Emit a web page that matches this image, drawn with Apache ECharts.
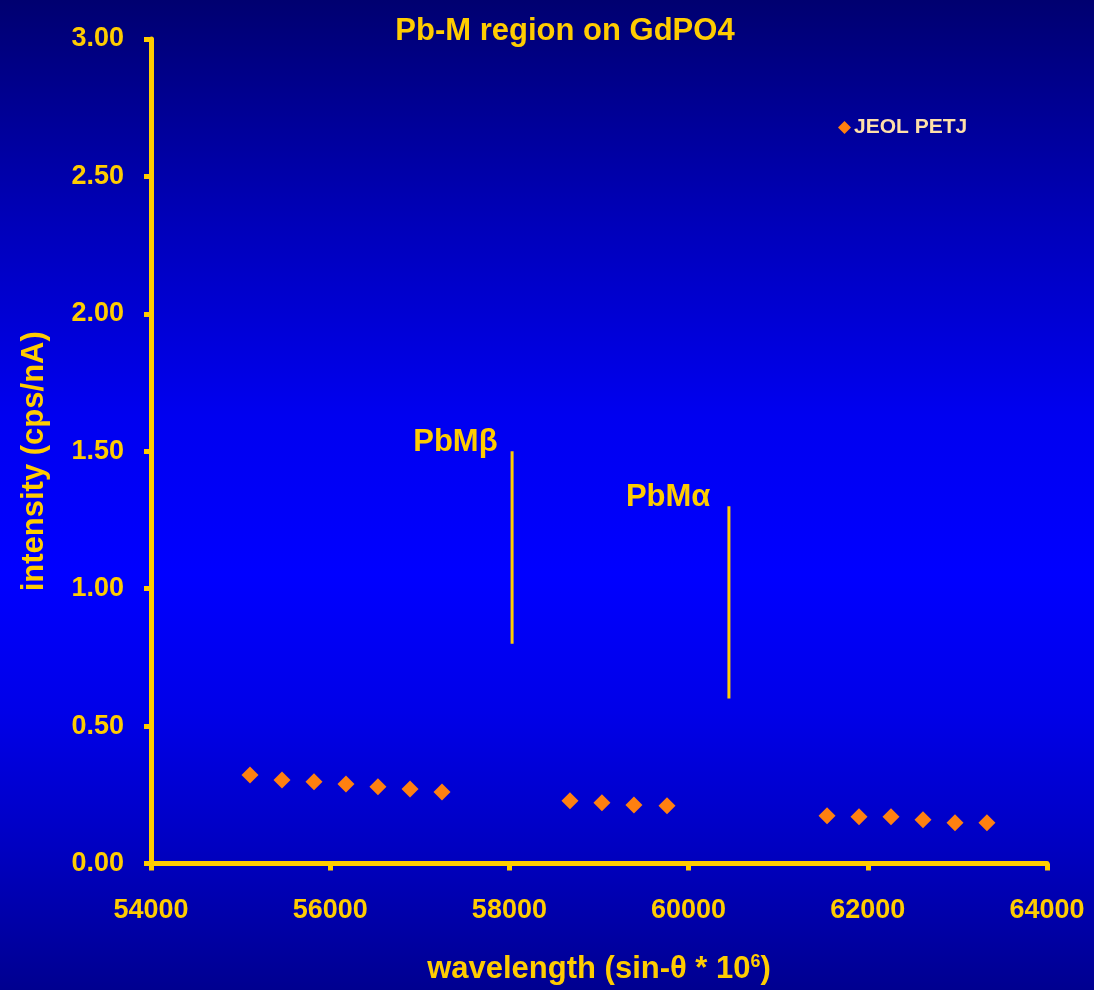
<!DOCTYPE html>
<html>
<head>
<meta charset="utf-8">
<script src="https://cdn.jsdelivr.net/npm/echarts@6/dist/echarts.min.js"></script>
<style>
html,body{margin:0;padding:0;}
#c{width:1094px;height:990px;background:linear-gradient(to bottom,#000070 0%,#0000b8 22%,#0000f0 42%,#0000ff 58%,#0000e8 72%,#0000c0 86%,#000090 100%);}
</style>
</head>
<body>
<div id="c"></div>
<script>
const xValues = [55105,55462,55819,56176,56533,56891,57248, 58676,59033,59390,59759, 61545,61902,62259,62616,62973,63330];
const yValues = [0.322,0.304,0.297,0.289,0.279,0.271,0.260, 0.228,0.221,0.213,0.210, 0.174,0.170,0.170,0.159,0.148,0.148];
const lineNames = ['PbMβ','PbMα'];
const lineX = [58030, 60450];
const lineTop = [1.50, 1.30];
const lineBottom = [0.80, 0.60];
const seriesName = 'JEOL PETJ';
const titleText = 'Pb-M region on GdPO4';

const yellow = '#FFCC00';
const font = '"Liberation Sans", Arial, sans-serif';

const series = [{
  name: seriesName,
  type: 'scatter',
  symbol: 'diamond',
  symbolSize: 17,
  itemStyle: {color: '#FF8010', opacity: 1},
  data: xValues.map((x,i)=>[x,yValues[i]]),
  z: 5
}];
lineNames.forEach((n,i)=>{
  series.push({
    type: 'line',
    silent: true,
    symbol: 'none',
    lineStyle: {color: yellow, width: 3, opacity: 1},
    data: [[lineX[i], lineBottom[i]], [lineX[i], lineTop[i]]],
    z: 3
  });
  series.push({
    type: 'scatter',
    silent: true,
    symbolSize: 1,
    itemStyle: {opacity: 0},
    data: [[lineX[i], lineTop[i]]],
    label: {
      show: true, position: 'left', distance: i === 0 ? 14 : 18, offset: [0, -9],
      formatter: n, color: yellow, opacity: 1, fontSize: 31, fontWeight: 'bold', fontFamily: font
    },
    z: 4
  });
});

const chart = echarts.init(document.getElementById('c'));
chart.setOption({
  backgroundColor: 'transparent',
  animation: false,
  title: {
    text: titleText, left: 560, top: 11, textAlign: 'center',
    textStyle: {color: yellow, fontSize: 31, fontWeight: 'bold', fontFamily: font}
  },
  legend: {
    data: [{name: seriesName, icon: 'diamond'}],
    left: 833, top: 112, itemWidth: 13, itemHeight: 13, itemGap: 4,
    textStyle: {color: '#FFE0A8', fontSize: 21, fontWeight: 'bold', fontFamily: font, padding: [0,0,0,-2]}
  },
  grid: {left: 151, right: 47, top: 39, bottom: 122, containLabel: false},
  xAxis: {
    type: 'value', min: 54000, max: 64000, interval: 2000,
    name: 'wavelength (sin-θ * 10{sup|6})',
    nameLocation: 'middle', nameGap: 90,
    nameTextStyle: {
      color: yellow, fontSize: 31, fontWeight: 'bold', fontFamily: font,
      rich: {sup: {color: yellow, fontSize: 18, fontWeight: 'bold', fontFamily: font, verticalAlign: 'top', padding: [0,0,14,0]}}
    },
    axisLine: {show: true, onZero: false, lineStyle: {color: yellow, width: 5}},
    axisTick: {show: true, length: 7, lineStyle: {color: yellow, width: 5}},
    axisLabel: {color: yellow, fontSize: 27, fontWeight: 'bold', fontFamily: font, margin: 34,
      formatter: v => String(v)},
    splitLine: {show: false}
  },
  yAxis: {
    type: 'value', min: 0, max: 3, interval: 0.5,
    name: 'intensity (cps/nA)',
    nameLocation: 'middle', nameGap: 101, nameRotate: 90,
    nameTextStyle: {color: yellow, fontSize: 31, fontWeight: 'bold', fontFamily: font, padding: [0,20,0,0]},
    axisLine: {show: true, onZero: false, lineStyle: {color: yellow, width: 5}},
    axisTick: {show: true, length: 7, lineStyle: {color: yellow, width: 5}},
    axisLabel: {color: yellow, fontSize: 27, fontWeight: 'bold', fontFamily: font, margin: 27,
      formatter: v => v.toFixed(2)},
    splitLine: {show: false}
  },
  series: series
});
</script>
</body>
</html>
